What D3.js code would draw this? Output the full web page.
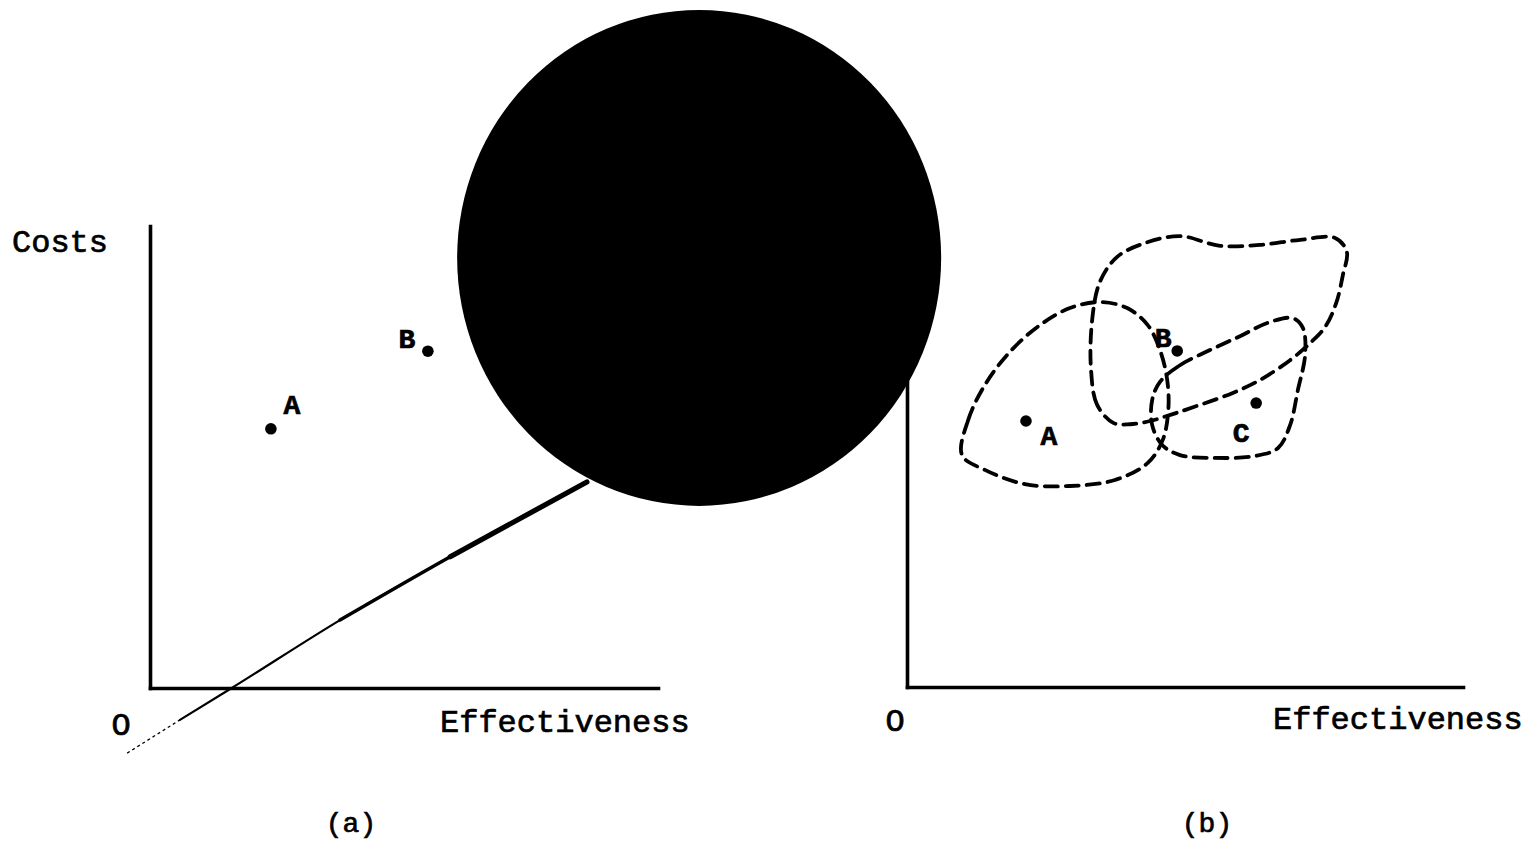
<!DOCTYPE html>
<html>
<head>
<meta charset="utf-8">
<script src="https://cdn.jsdelivr.net/npm/d3@7"></script>
<style>
  html, body { margin: 0; padding: 0; background: #fff; }
  svg { display: block; }
  text { font-family: "Liberation Mono", "DejaVu Sans Mono", monospace; fill: #000; }
</style>
</head>
<body>
<svg id="chart" width="1540" height="841"></svg>
<script>
// ---- data (both panels use a 0..100 effectiveness / cost scale) ----
const panelNames = ["(a)", "(b)"];
const axisTitleX = "Effectiveness";
const axisTitleY = "Costs";
const originLabel = "O";

// panel (a): point estimates
const pointsA_names = ["A", "B"];
const pointsA_eff   = [23.8, 54.7];
const pointsA_cost  = [56.1, 72.9];

// panel (a): ray drawn through the plot, from below the origin up to the blot
const rayEff  = [-4.5, 5.9, 16.1, 37.4, 59.1, 86.0];
const rayCost = [-14.1, -6.9, 0.0, 14.7, 28.4, 44.6];

// panel (a): large ink blot over the upper right of the figure
const blotEff = [108.1];
const blotCost = [93.1];

// panel (b): point estimates
const pointsB_names = ["A", "B", "C"];
const pointsB_eff   = [21.4, 48.6, 62.8];
const pointsB_cost  = [57.7, 72.9, 61.6];

// panel (b): uncertainty regions around each alternative
const regionA_eff  = [9.9, 11.0, 14.0, 18.5, 23.9, 29.3, 34.7, 39.6, 43.3, 45.5, 46.8, 47.0, 46.0, 43.3, 37.4, 29.3, 21.2, 14.0];
const regionA_cost = [50.3, 57.9, 65.5, 72.7, 78.5, 82.2, 83.5, 82.2, 78.5, 73.1, 66.6, 60.1, 53.6, 48.6, 44.9, 43.6, 44.0, 47.1];
const regionB_eff  = [37.1, 34.2, 33.1, 33.3, 34.7, 37.8, 42.8, 49.1, 56.3, 63.5, 70.7, 77.0, 79.1, 78.4, 77.2, 75.2, 72.5, 68.9, 63.5, 58.6, 52.7, 47.8, 43.7, 40.1];
const regionB_cost = [57.3, 61.2, 68.8, 79.6, 87.9, 93.3, 96.3, 97.8, 95.7, 95.9, 97.0, 97.4, 94.4, 89.4, 83.3, 78.1, 74.6, 70.9, 66.6, 63.8, 61.2, 59.2, 57.7, 57.0];
const regionC_eff  = [45.5, 49.1, 54.5, 59.9, 64.9, 69.4, 71.2, 71.6, 70.3, 68.9, 66.7, 62.6, 55.4, 49.1, 45.9, 44.1, 44.1];
const regionC_cost = [66.2, 69.8, 73.1, 76.1, 79.0, 80.0, 77.9, 72.0, 64.4, 56.8, 51.8, 50.1, 49.7, 50.3, 52.5, 56.8, 62.3];

// ---- layout ----
const svg = d3.select("#chart");
const fontSize = 32;

const xa = d3.scaleLinear().domain([0, 100]).range([150, 658]);
const ya = d3.scaleLinear().domain([0, 100]).range([688, 226]);
const xb = d3.scaleLinear().domain([0, 100]).range([907, 1463]);
const yb = d3.scaleLinear().domain([0, 100]).range([687, 226]);

function drawAxes(g, x, y) {
  const ax = g.append("g").attr("transform", `translate(0,${y(0)})`)
    .call(d3.axisBottom(x).ticks(0).tickSizeOuter(0));
  const ay = g.append("g").attr("transform", `translate(${x(0)},0)`)
    .call(d3.axisLeft(y).ticks(0).tickSizeOuter(0));
  [ax, ay].forEach(a => a.select(".domain")
    .attr("stroke", "#000").attr("stroke-width", 3.6).attr("stroke-linecap", "square"));
}

function drawText(g, str, x, y, size, anchor, weight) {
  g.append("text").attr("x", x).attr("y", y)
    .attr("font-size", size).attr("text-anchor", anchor || "start")
    .attr("font-weight", weight || "normal")
    .attr("stroke", "#000").attr("stroke-width", 0.7)
    .text(str);
}

// ---- panel (a) ----
const ga = svg.append("g");
drawAxes(ga, xa, ya);
drawText(ga, axisTitleY, 12, 252, fontSize);
drawText(ga, originLabel, xa(0) - 29, ya(0) + 47, fontSize, "middle");
drawText(ga, axisTitleX, 440, ya(0) + 44, fontSize);

// ray: faint dotted tail, then a stroke that thickens toward the blot
const rayPts = rayEff.map((e, i) => [xa(e), ya(rayCost[i])]);
const rayLine = d3.line().curve(d3.curveMonotoneX);
ga.append("path").attr("d", rayLine(rayPts.slice(0, 2)))
  .attr("fill", "none").attr("stroke", "#000").attr("stroke-width", 1.3)
  .attr("stroke-dasharray", "3,3");
[[1, 2.2], [3, 3.4], [4, 5.2]].forEach(([start, w]) => {
  ga.append("path").attr("d", rayLine(rayPts.slice(start)))
    .attr("fill", "none").attr("stroke", "#000").attr("stroke-width", w)
    .attr("stroke-linecap", "round");
});

ga.selectAll("circle.pt").data(pointsA_names).join("circle")
  .attr("class", "pt")
  .attr("cx", (d, i) => xa(pointsA_eff[i]))
  .attr("cy", (d, i) => ya(pointsA_cost[i]))
  .attr("r", 5.8).attr("fill", "#000");
const labOffA = { A: [21, -15], B: [-21, -3] };
pointsA_names.forEach((n, i) => {
  drawText(ga, n, xa(pointsA_eff[i]) + labOffA[n][0], ya(pointsA_cost[i]) + labOffA[n][1], 28, "middle", "bold");
});
drawText(ga, panelNames[0], 351, 832, 28, "middle");

// ---- panel (b) ----
const gb = svg.append("g");
drawAxes(gb, xb, yb);
drawText(gb, originLabel, xb(0) - 12, yb(0) + 44, fontSize, "middle");
drawText(gb, axisTitleX, 1273, yb(0) + 42, fontSize);

const blob = d3.line().curve(d3.curveCatmullRomClosed.alpha(0.5));
[[regionA_eff, regionA_cost], [regionB_eff, regionB_cost], [regionC_eff, regionC_cost]]
  .forEach(([ex, cy]) => {
    gb.append("path")
      .attr("d", blob(ex.map((e, i) => [xb(e), yb(cy[i])])))
      .attr("fill", "none").attr("stroke", "#000").attr("stroke-width", 3.8)
      .attr("stroke-dasharray", "13,8").attr("stroke-linecap", "round");
  });

gb.selectAll("circle.pt").data(pointsB_names).join("circle")
  .attr("class", "pt")
  .attr("cx", (d, i) => xb(pointsB_eff[i]))
  .attr("cy", (d, i) => yb(pointsB_cost[i]))
  .attr("r", 5.8).attr("fill", "#000");
const labOffB = { A: [23, 24], B: [-14, -4], C: [-15, 39] };
pointsB_names.forEach((n, i) => {
  drawText(gb, n, xb(pointsB_eff[i]) + labOffB[n][0], yb(pointsB_cost[i]) + labOffB[n][1], 28, "middle", "bold");
});
drawText(gb, panelNames[1], 1207, 832, 28, "middle");

// ---- ink blot, on top of everything beneath it ----
svg.append("ellipse")
  .attr("cx", xa(blotEff[0])).attr("cy", ya(blotCost[0]))
  .attr("rx", 242).attr("ry", 248)
  .attr("fill", "#000");
</script>
</body>
</html>
